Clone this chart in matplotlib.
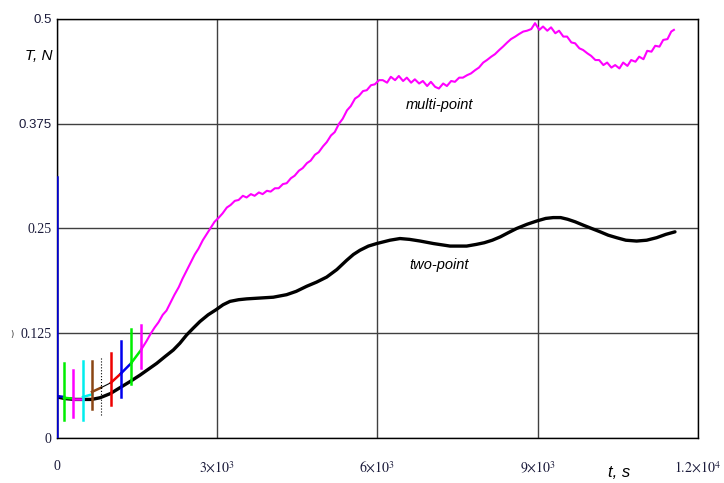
import matplotlib
matplotlib.use('Agg')
import matplotlib.pyplot as plt

plt.rcParams['mathtext.fontset'] = 'stix'

# two-point model (black)
t_two = [0, 150, 340, 500, 650, 805, 1000, 1179, 1360, 1554, 1710, 1866, 2020, 2178,
         2300, 2428, 2550, 2677, 2830, 2977, 3110, 3239, 3400, 3551, 3800, 4050,
         4299, 4480, 4674, 4860, 5049, 5240, 5423, 5550, 5672, 5830, 5985, 6234,
         6421, 6600, 6800, 7050, 7360, 7670, 7850, 8000, 8150, 8300, 8450, 8606,
         8800, 8986, 9150, 9290, 9430, 9560, 9700, 9852, 10010, 10170, 10320,
         10478, 10650, 10852, 11040, 11226, 11400, 11570]
T_two = [0.049, 0.047, 0.046, 0.046, 0.046, 0.048, 0.053, 0.060, 0.067, 0.075, 0.082,
         0.089, 0.097, 0.105, 0.113, 0.123, 0.131, 0.139, 0.147, 0.153, 0.159, 0.163,
         0.165, 0.166, 0.167, 0.168, 0.171, 0.175, 0.181, 0.186, 0.192, 0.201, 0.212,
         0.219, 0.224, 0.229, 0.232, 0.236, 0.238, 0.237, 0.235, 0.232, 0.229, 0.229,
         0.231, 0.233, 0.236, 0.240, 0.245, 0.250, 0.255, 0.259, 0.262, 0.263, 0.263,
         0.261, 0.258, 0.254, 0.250, 0.246, 0.242, 0.239, 0.236, 0.235, 0.236, 0.239,
         0.243, 0.246]

# multi-point model, first short pieces (each starts with a spike)
seg_t0 = [0, 131, 300, 487, 655, 824, 1011, 1198, 1385]
seg_t1 = [131, 300, 487, 655, 824, 1011, 1198, 1385, 1573]
seg_T0 = [0.050, 0.048, 0.047, 0.049, 0.055, 0.060, 0.066, 0.077, 0.089]
seg_T1 = [0.049, 0.047, 0.047, 0.052, 0.060, 0.066, 0.077, 0.089, 0.105]
spike_t = [0, 131, 300, 487, 655, 824, 1011, 1198, 1385, 1573]
spike_lo = [0.0, 0.022, 0.025, 0.021, 0.035, 0.028, 0.039, 0.049, 0.064, 0.084]
spike_hi = [0.311, 0.090, 0.081, 0.092, 0.092, 0.097, 0.102, 0.116, 0.130, 0.135]
seg_colors = ['#0000cc', '#00ee00', '#ff00ff', '#00eeee', '#8b4513', 'black',
              '#ee0000', '#0000ee', '#00ee00', '#ff00ff']

# multi-point model, main part (magenta)
t_multi = [1573, 1680, 1750, 1830, 1900, 1980, 2050, 2130, 2200, 2280, 2350, 2430,
           2500, 2580, 2650, 2730, 2800, 2880, 2950, 3030, 3100, 3180, 3250, 3330,
           3400, 3480, 3550, 3630, 3700, 3780, 3850, 3930, 4000, 4080, 4150, 4230,
           4300, 4380, 4450, 4530, 4600, 4680, 4750, 4830, 4900, 4980, 5050, 5130,
           5200, 5280, 5350, 5430, 5500, 5580, 5650, 5730, 5800, 5880, 5950, 6030,
           6100, 6180, 6250, 6330, 6400, 6480, 6550, 6630, 6700, 6780, 6850, 6930,
           7000, 7080, 7150, 7230, 7300, 7380, 7450, 7530, 7600, 7680, 7750, 7830,
           7900, 7980, 8050, 8130, 8200, 8280, 8350, 8430, 8500, 8580, 8650, 8730,
           8800, 8880, 8950, 9030, 9100, 9180, 9250, 9330, 9400, 9480, 9550, 9630,
           9700, 9780, 9850, 9930, 10000, 10080, 10150, 10230, 10300, 10380, 10450,
           10530, 10600, 10680, 10750, 10830, 10900, 10980, 11050, 11130, 11200,
           11280, 11350, 11430, 11500, 11550]
T_multi = [0.105, 0.116, 0.124, 0.132, 0.138, 0.147, 0.152, 0.162, 0.171, 0.180,
           0.190, 0.200, 0.209, 0.219, 0.226, 0.236, 0.243, 0.251, 0.258, 0.263,
           0.268, 0.275, 0.278, 0.283, 0.284, 0.289, 0.287, 0.291, 0.289, 0.293,
           0.291, 0.295, 0.294, 0.298, 0.298, 0.303, 0.304, 0.310, 0.313, 0.319,
           0.322, 0.328, 0.331, 0.338, 0.341, 0.348, 0.353, 0.361, 0.365, 0.375,
           0.381, 0.391, 0.396, 0.405, 0.408, 0.414, 0.415, 0.421, 0.422, 0.427,
           0.427, 0.424, 0.431, 0.427, 0.432, 0.426, 0.430, 0.424, 0.428, 0.423,
           0.426, 0.420, 0.425, 0.419, 0.417, 0.423, 0.420, 0.426, 0.425, 0.430,
           0.430, 0.433, 0.435, 0.439, 0.442, 0.448, 0.451, 0.455, 0.458, 0.463,
           0.467, 0.472, 0.476, 0.479, 0.482, 0.485, 0.486, 0.488, 0.495, 0.487,
           0.491, 0.486, 0.490, 0.483, 0.486, 0.479, 0.479, 0.472, 0.471, 0.465,
           0.463, 0.459, 0.456, 0.451, 0.451, 0.445, 0.448, 0.442, 0.445, 0.441,
           0.448, 0.444, 0.451, 0.449, 0.455, 0.452, 0.462, 0.461, 0.468, 0.467,
           0.475, 0.476, 0.485, 0.487]

x_ticks = [0, 3000, 6000, 9000, 12000]
x_labels = ['0', r'$3{\times}10^{3}$', r'$6{\times}10^{3}$', r'$9{\times}10^{3}$',
            r'$1.2{\times}10^{4}$']
y_ticks = [0, 0.125, 0.25, 0.375, 0.5]
y_labels = ['0', '0.125', '0.25', '0.375', '0.5']

fig = plt.figure(figsize=(7.24, 4.83), dpi=100)
ax = fig.add_axes([0.0787, 0.0932, 0.8853, 0.8675])

ax.plot(t_two, T_two, color='black', lw=2.4, zorder=3,
        solid_joinstyle='round', solid_capstyle='round')

for i in range(len(seg_t0)):
    w = 0.8 if seg_colors[i] == 'black' else 1.8
    ax.plot([seg_t0[i], seg_t1[i]], [seg_T0[i], seg_T1[i]], color=seg_colors[i],
            lw=w, zorder=4)
for i in range(len(spike_t)):
    ls = ':' if seg_colors[i] == 'black' else '-'
    w = 0.8 if seg_colors[i] == 'black' else 1.8
    ax.plot([spike_t[i], spike_t[i]], [spike_lo[i], spike_hi[i]], color=seg_colors[i],
            lw=w, ls=ls, zorder=4)

ax.plot(t_multi, T_multi, color='#ff00ff', lw=1.5, zorder=4)

ax.set_xlim(0, 12000)
ax.set_ylim(0, 0.5)
ax.set_xticks(x_ticks)
ax.set_xticklabels(x_labels, fontsize=10, family='Liberation Serif')
ax.set_yticks(y_ticks)
ax.set_yticklabels(y_labels, fontsize=10, family='Liberation Serif')
for lab in ax.get_yticklabels()[3:]:
    lab.set_family('Liberation Sans')
    lab.set_fontsize(9.5)
ax.tick_params(length=0, colors='#1a1a3a')
ax.tick_params(axis='x', pad=16)
ax.tick_params(axis='y', pad=4)
ax.grid(True, color='#404040', lw=1)
for s in ax.spines.values():
    s.set_linewidth(1)

fig.text(0.072, 0.885, 'T, N', ha='right', va='center', fontsize=11,
         style='italic', family='Liberation Sans')
fig.text(0.855, 0.022, 't, s', ha='center', va='center', fontsize=12,
         style='italic', family='Liberation Sans')
fig.text(0.017, 0.308, ')', ha='center', va='center', fontsize=6, color='#333333')

ax.text(7170, 0.397, 'multi-point', ha='center', va='center', fontsize=10.5,
        style='italic', family='Liberation Sans')
ax.text(7150, 0.206, 'two-point', ha='center', va='center', fontsize=10.5,
        style='italic', family='Liberation Sans')

fig.savefig('out.png', dpi=100)
